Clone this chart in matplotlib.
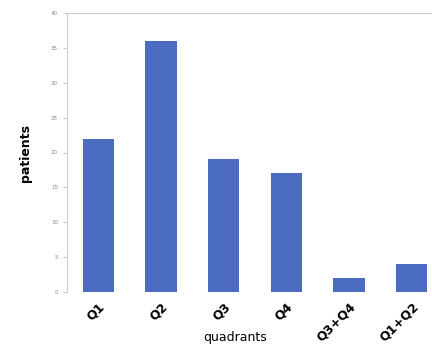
import matplotlib
matplotlib.use('Agg')
import matplotlib.pyplot as plt
import numpy as np

quadrants = ['Q1', 'Q2', 'Q3', 'Q4', 'Q3+Q4', 'Q1+Q2']
patients = [22, 36, 19, 17, 2, 4]
yticks = [0, 5, 10, 15, 20, 25, 30, 35, 40]

fig = plt.figure(figsize=(4.32, 3.46), dpi=100)
ax = fig.add_axes([67/432, 54/346, 376/432, 279/346])

x = np.arange(len(quadrants))
ax.bar(x, patients, width=0.5, color='#4a6bbf')

ax.set_xlim(-0.5, 5.5)
ax.set_ylim(0, 40)
ax.set_yticks(yticks)
ax.tick_params(axis='y', labelsize=4, labelcolor='#888888', color='#cccccc', length=3)
ax.set_xticks(x)
ax.set_xticklabels(quadrants, rotation=45, ha='right', rotation_mode='anchor',
                   fontsize=9, fontweight='bold')
ax.tick_params(axis='x', length=0, pad=6)

for side in ['right', 'bottom']:
    ax.spines[side].set_visible(False)
ax.spines['left'].set_color('#cccccc')
ax.spines['top'].set_color('#cccccc')

ax.set_ylabel('patients', fontsize=9, fontweight='bold', labelpad=14)
ax.set_xlabel('quadrants', fontsize=9)
ax.xaxis.set_label_coords(168/376, -0.14)

fig.savefig('out.png', dpi=100)
